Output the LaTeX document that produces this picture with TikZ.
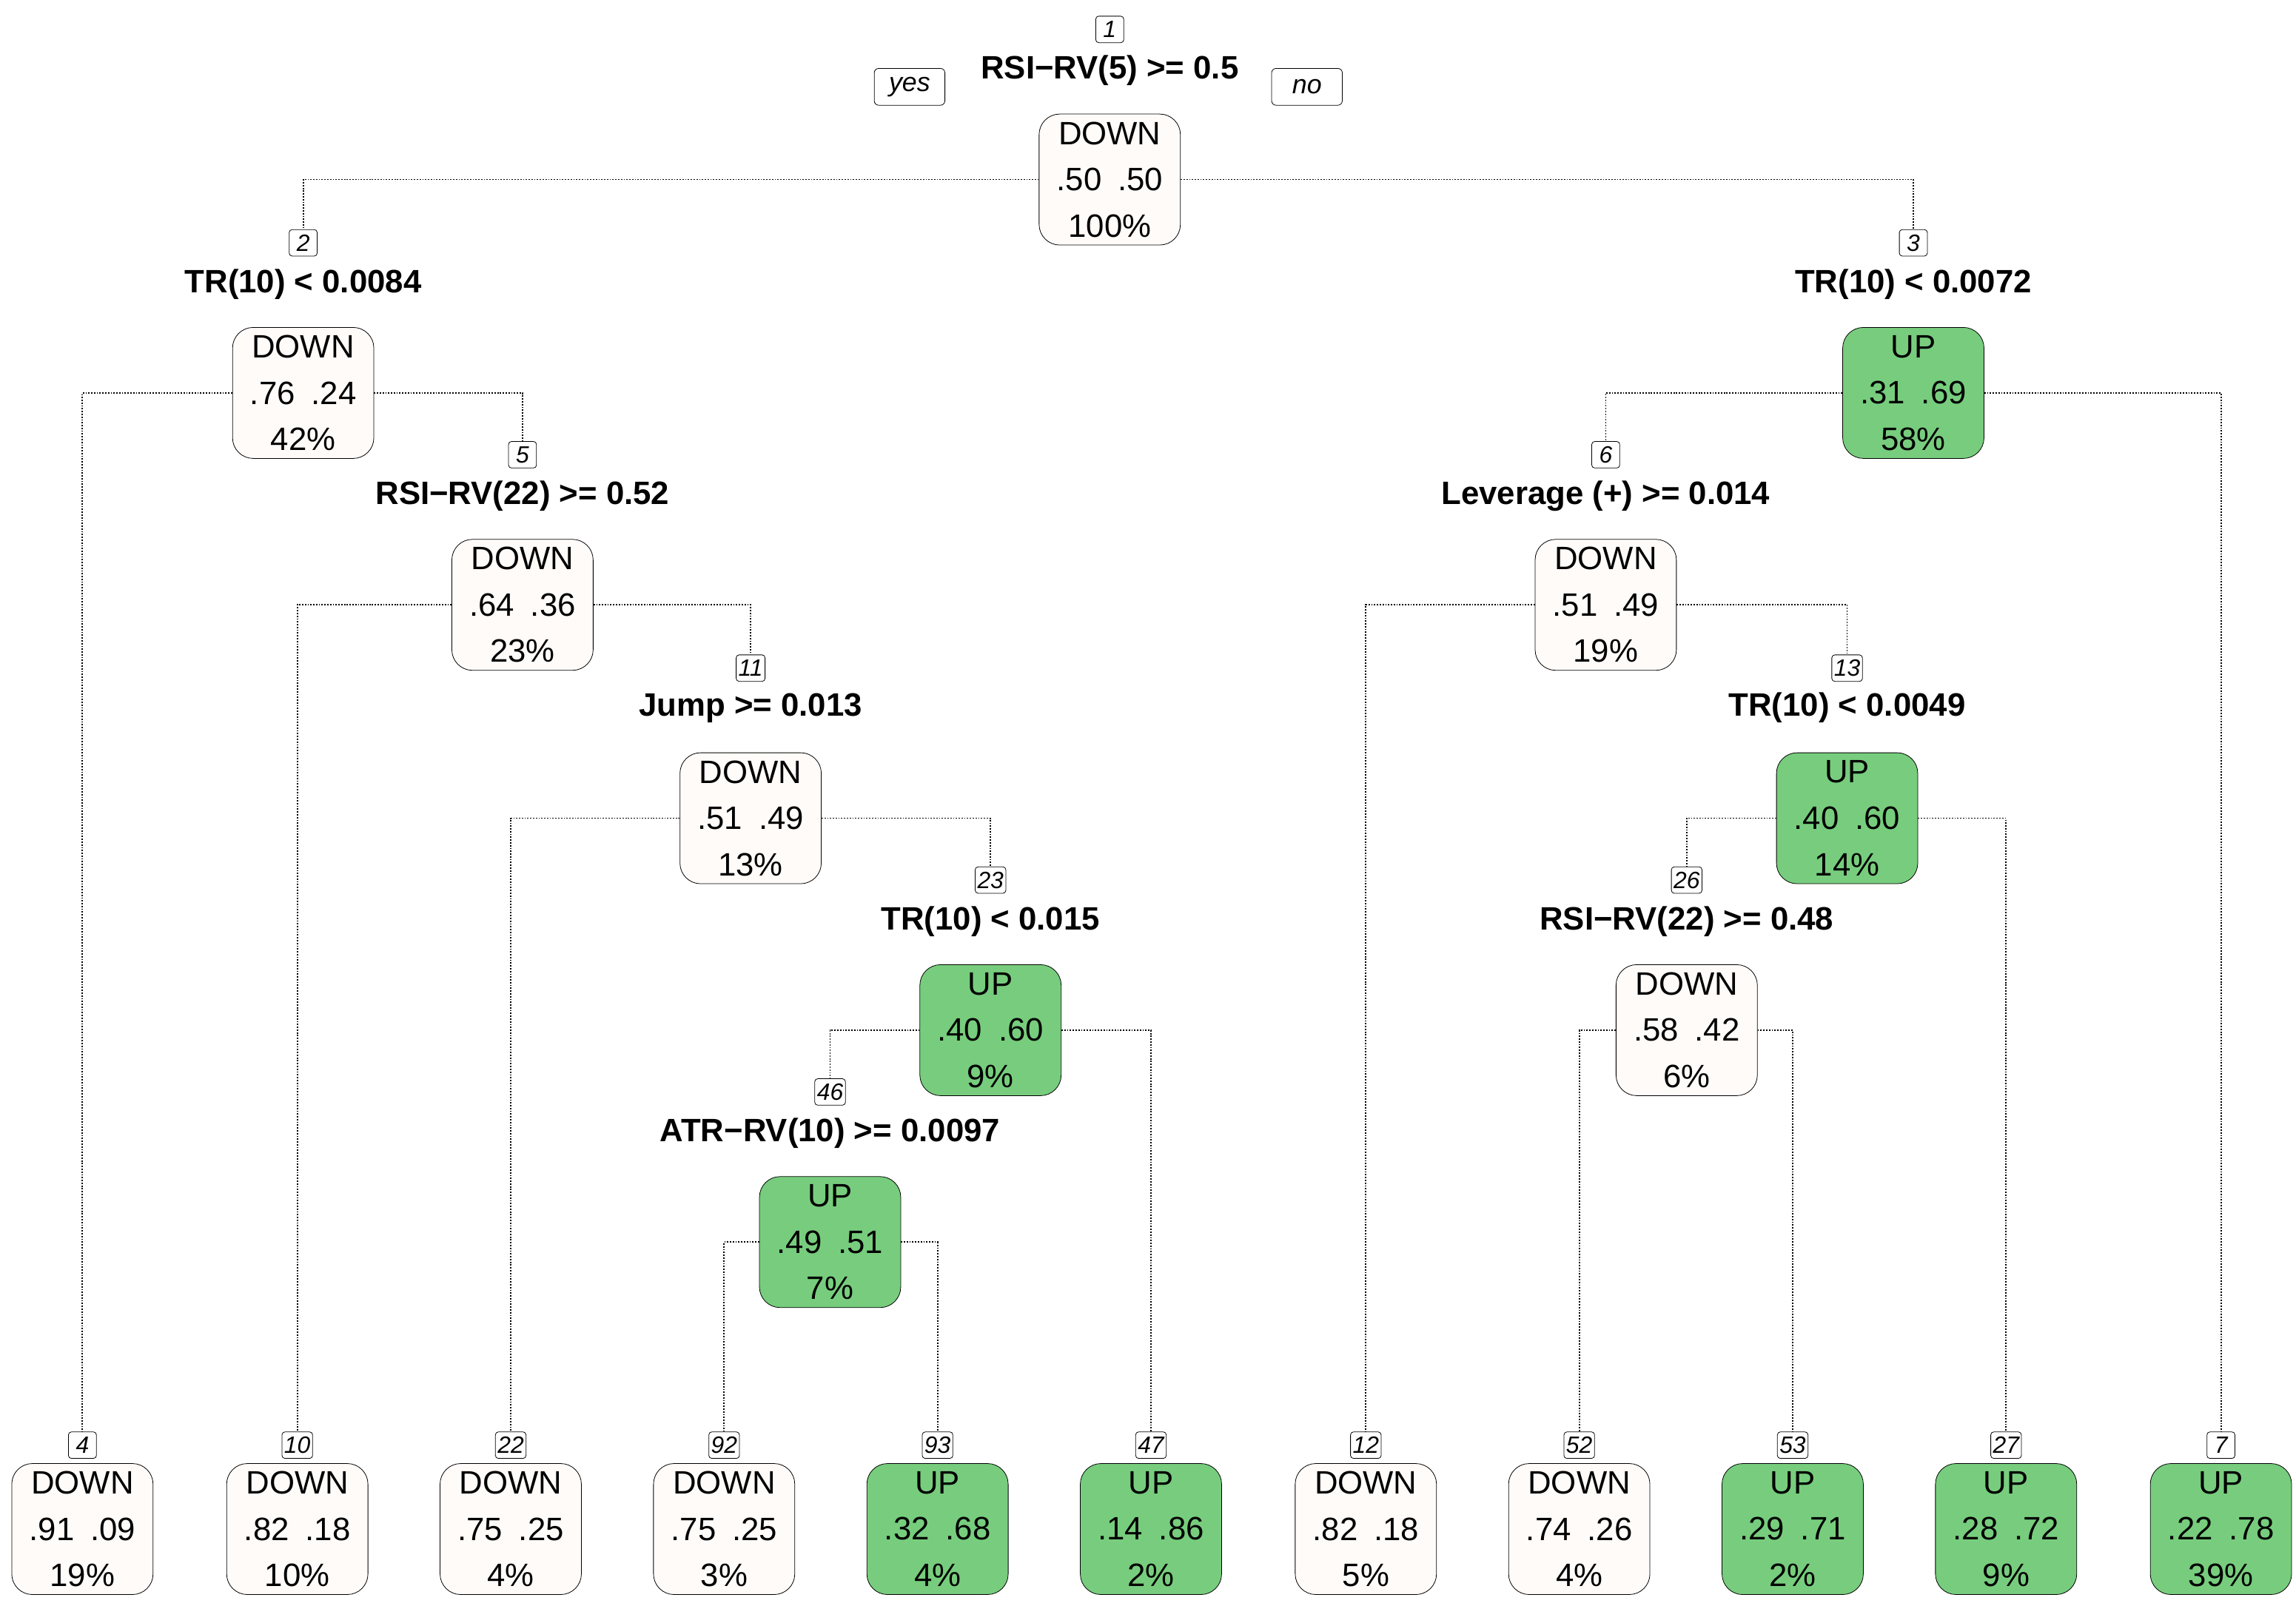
\documentclass[tikz,border=0pt]{standalone}
\usepackage{fontspec}
\setmainfont{Liberation Sans}
\begin{document}
\begin{tikzpicture}[x=1pt,y=-1pt,
  box/.style={draw,rounded corners=14pt,minimum width=96pt,minimum height=89pt,inner sep=0pt,align=center,font=\fontsize{22}{31.5}\selectfont},
  dn/.style={box,fill=dnc},
  up/.style={box,fill=upc},
  num/.style={draw,rounded corners=2pt,inner sep=1.5pt,minimum width=19pt,minimum height=18pt,font=\fontsize{16}{16}\selectfont\itshape},
  cond/.style={font=\fontsize{22}{22}\selectfont\bfseries},
  yn/.style={draw,rounded corners=3pt,minimum width=48pt,minimum height=25pt,inner sep=1pt,font=\fontsize{18}{18}\selectfont\itshape},
  ed/.style={densely dotted,line width=0.9pt}]
\definecolor{upc}{RGB}{119,205,125}
\definecolor{dnc}{RGB}{255,251,249}
\useasboundingbox (0,0) rectangle (1560,1091);
% internal nodes
\node[dn] (n1) at (754,122) {DOWN\\.50\enspace.50\\100\%};
\node[num] (k1) at (754,20) {1};
\node[cond] at (754,48) {RSI−RV(5) >= 0.5};
\node[yn] at (618,59) {yes};
\node[yn] at (888,59) {no};
\node[dn] (n2) at (206,267) {DOWN\\.76\enspace.24\\42\%};
\node[num] (k2) at (206,165) {2};
\node[cond] at (206,193) {TR(10) < 0.0084};
\node[up] (n3) at (1300,267) {UP\\.31\enspace.69\\58\%};
\node[num] (k3) at (1300,165) {3};
\node[cond] at (1300,193) {TR(10) < 0.0072};
\node[dn] (n5) at (355,411) {DOWN\\.64\enspace.36\\23\%};
\node[num] (k5) at (355,309) {5};
\node[cond] at (355,337) {RSI−RV(22) >= 0.52};
\node[dn] (n6) at (1091,411) {DOWN\\.51\enspace.49\\19\%};
\node[num] (k6) at (1091,309) {6};
\node[cond] at (1091,337) {Leverage (+) >= 0.014};
\node[dn] (n11) at (510,556) {DOWN\\.51\enspace.49\\13\%};
\node[num] (k11) at (510,454) {11};
\node[cond] at (510,481) {Jump >= 0.013};
\node[up] (n13) at (1255,556) {UP\\.40\enspace.60\\14\%};
\node[num] (k13) at (1255,454) {13};
\node[cond] at (1255,481) {TR(10) < 0.0049};
\node[up] (n23) at (673,700) {UP\\.40\enspace.60\\9\%};
\node[num] (k23) at (673,598) {23};
\node[cond] at (673,626) {TR(10) < 0.015};
\node[dn] (n26) at (1146,700) {DOWN\\.58\enspace.42\\6\%};
\node[num] (k26) at (1146,598) {26};
\node[cond] at (1146,626) {RSI−RV(22) >= 0.48};
\node[up] (n46) at (564,844) {UP\\.49\enspace.51\\7\%};
\node[num] (k46) at (564,742) {46};
\node[cond] at (564,770) {ATR−RV(10) >= 0.0097};
% leaves
\foreach \nm/\x/\st/\cl/\a/\b/\p in {4/56/dn/DOWN/.91/.09/19,10/202/dn/DOWN/.82/.18/10,22/347/dn/DOWN/.75/.25/4,92/492/dn/DOWN/.75/.25/3,93/637/up/UP/.32/.68/4,47/782/up/UP/.14/.86/2,12/928/dn/DOWN/.82/.18/5,52/1073/dn/DOWN/.74/.26/4,53/1218/up/UP/.29/.71/2,27/1363/up/UP/.28/.72/9,7/1509/up/UP/.22/.78/39}{
  \node[\st] (n\nm) at (\x,1039) {\cl\\\a\enspace\b\\\p\%};
  \node[num] (k\nm) at (\x,982) {\nm};
}
% edges
\foreach \p/\l/\r in {1/2/3,2/4/5,3/6/7,5/10/11,6/12/13,11/22/23,13/26/27,23/46/47,26/52/53,46/92/93}{
  \draw[ed] (n\p.west) -| (k\l.north);
  \draw[ed] (n\p.east) -| (k\r.north);
}
\end{tikzpicture}
\end{document}
